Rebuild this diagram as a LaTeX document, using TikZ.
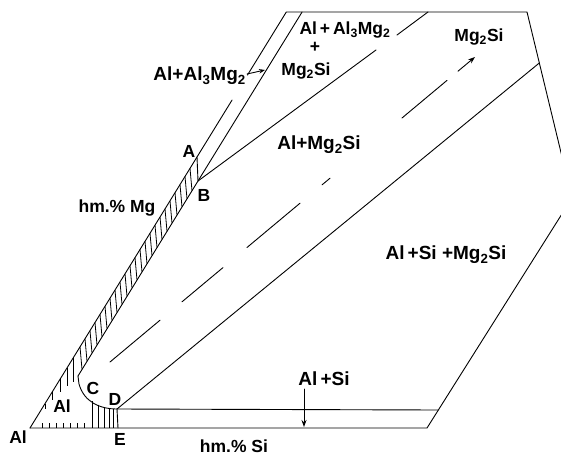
\documentclass[tikz,border=0pt]{standalone}
\usepackage{fontspec}
\setmainfont{Liberation Sans}
\usetikzlibrary{arrows.meta,calc}
\begin{document}
\begin{tikzpicture}[x=1pt,y=-1pt,
  ln/.style={line width=0.9pt, line cap=round},
  hatch/.style={line width=0.8pt},
  lbl/.style={font=\fontsize{17.5}{20}\selectfont\bfseries, inner sep=0pt},
  biglbl/.style={font=\fontsize{19}{22}\selectfont\bfseries, inner sep=0pt},
  arr/.style={ln, -{Stealth[length=7pt,width=5pt]}}]
\useasboundingbox (0,0) rectangle (561,457);
\clip (0,0) rectangle (561,457);
% key points
\coordinate (Al) at (30,428);
\coordinate (A) at (197,157);
\coordinate (B) at (198,181);
\coordinate (C) at (79,384);
\coordinate (P) at (78,376);
\coordinate (D) at (117,409);
\coordinate (E) at (118,428);
\coordinate (T1) at (286.3,12);
\coordinate (T2) at (302.1,12);
\coordinate (T3) at (428,12);
\coordinate (TR) at (527,12);
\coordinate (RV) at (572,198);
\coordinate (M) at (539.3,63);
\coordinate (R1) at (438.3,410);
\coordinate (R0) at (427,428);
\coordinate (G1a) at (232.1,100);
\coordinate (G1b) at (247.5,75);
\coordinate (G3a) at (376,50);
\coordinate (G3b) at (397,35);
% outline
\draw[ln] (Al) -- (A) -- (G1a);
\draw[ln] (G1b) -- (T1) -- (TR) -- (RV) -- (R0) -- (Al);
\draw[ln] (P) -- (B) -- (T2);
\draw[ln] (B) -- (G3a);
\draw[ln] (G3b) -- (T3);
\draw[ln] (A) -- (B);
\draw[ln] (D) -- (M);
\draw[ln] (D) -- (R1);
\draw[ln] (P) -- (C) .. controls (84,402) and (100,409) .. (D);
\draw[ln] (D) -- (E);
% hatching of the band
\foreach \x in {82,87,...,194}
  \draw[hatch] (\x,{181+(198-\x)/0.6162}) -- (\x-2,{428-(\x-32)/0.6162});
% hatching of Al region
\foreach \x/\l in {45/5,52/8,60/13,67/18,73/24}
  \draw[hatch] (\x,{428-(\x-30)/0.6162}) -- ++(0,\l);
\foreach \x in {42,49,56,63,70,77,84}
  \draw[hatch] (\x,428) -- (\x,423);
\foreach \x/\y in {92/401,98/404.5,104/407,109/408.3,113/409}
  \draw[hatch] (\x,\y) -- (\x,428);
% dashed line
\coordinate (S1) at (110,362); \coordinate (S2) at (160,320.2);
\coordinate (S3) at (182,301.8); \coordinate (S4) at (223,267.6);
\coordinate (S5) at (247,247.5); \coordinate (S6) at (300,203.2);
\coordinate (S7) at (322,184.9); \coordinate (S8) at (330,178.2);
\coordinate (S9) at (402,118); \coordinate (S10) at (447,80.4);
\coordinate (S11) at (458,71.2); \coordinate (S12) at (475,57);
\draw[ln] (S1) -- (S2);
\draw[ln] (S3) -- (S4);
\draw[ln] (S5) -- (S6);
\draw[ln] (S7) -- (S8);
\draw[ln] (S9) -- (S10);
\draw[arr] (S11) -- (S12);
% labels
\node[biglbl, anchor=east] (l1) at (246,76) {Al+Al\textsubscript{3}Mg\textsubscript{2}};
\coordinate (l1t) at (265,70);
\draw[ln, -{Stealth[length=6pt,width=4.5pt]}] (l1.east) ++(1,-2) -- (l1t);
\node[lbl] (l2) at (345,30) {Al\,+\,Al\textsubscript{3}Mg\textsubscript{2}};
\node[lbl] (l3) at (315,47) {+};
\node[lbl] (l4) at (306,71) {Mg\textsubscript{2}Si};
\node[lbl] (l5) at (479,37) {Mg\textsubscript{2}Si};
\node[biglbl] (l6) at (319,145) {Al+Mg\textsubscript{2}Si};
\node[lbl] (la) at (189,151) {A};
\node[lbl] (lb) at (204,195) {B};
\node[lbl] (lmg) at (117,208) {hm.\% Mg};
\node[biglbl] (l7) at (446,255) {Al\,+Si +Mg\textsubscript{2}Si};
\node[biglbl] (l8) at (324,379) {Al\,+Si};
\coordinate (l8a) at (304,389);
\coordinate (l8b) at (304,427);
\draw[arr] (l8a) -- (l8b);
\node[lbl] (lc) at (93,388) {C};
\node[lbl] (ld) at (115,399) {D};
\node[lbl] (lal) at (62,406) {Al};
\node[lbl] (lal2) at (18,437) {Al};
\node[lbl] (le) at (120,439) {E};
\node[lbl] (lsi) at (234,446) {hm.\% Si};
\end{tikzpicture}
\end{document}
